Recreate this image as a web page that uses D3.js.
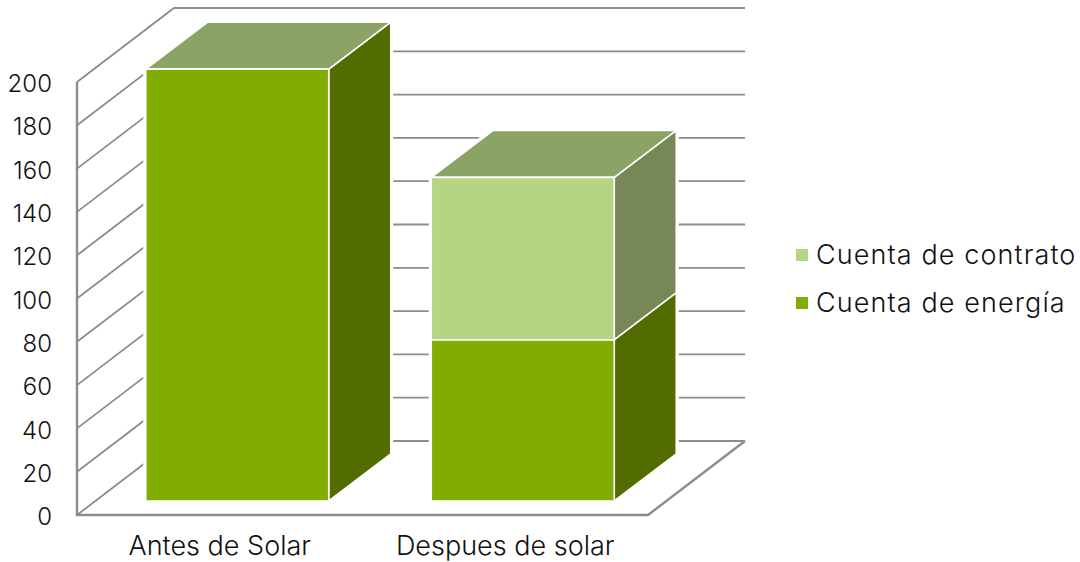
<!DOCTYPE html>
<html>
<head>
<meta charset="utf-8">
<script src="https://d3js.org/d3.v7.min.js"></script>
<title>Cuenta de energia</title>
<style>
body { margin: 0; background: #fff; }
svg { display: block; }
text, .tick text { font-family: Inter, sans-serif; font-weight: 300; font-size: 27px; fill: #111; }
.yaxis .tick text { font-size: 24px; }
.legend text { letter-spacing: 1.1px; }
</style>
</head>
<body>
<svg id="svg" width="1080" height="562"></svg>
<script>

let categories = ["Antes de Solar", "Despues de solar"];
let energia = [199.5, 74.5];
let contrato = [0, 75];
let yTicks = [0, 20, 40, 60, 80, 100, 120, 140, 160, 180, 200];
let seriesNames = ["Cuenta de energía", "Cuenta de contrato"];

// colours per series: front, side, top
let fronts = ["#80ad00", "#b5d584"];
let sides = ["#536c00", "#778755"];
let topColor = "#8ba365";
let gridColor = "#8c8c8c";

let wallDepth = { x: 97, y: -74 };   // front wall to back wall
let barGap = { x: 17.5, y: -14 };    // front wall to bar front
let barDepth = { x: 62, y: -47 };    // bar front to bar back

let svg = d3.select("#svg");

let x = d3.scaleBand().domain(categories).range([77, 648])
  .paddingInner(0.359).paddingOuter(0.1795);
let y = d3.scaleLinear().domain([0, 200]).range([515, 82]);

let line = d3.line();

function poly(points) {
  return line(points) + "Z";
}

// walls and gridlines
let grid = svg.append("g").attr("fill", "none").attr("stroke", gridColor).attr("stroke-width", 1.8);

grid.selectAll(".gridline").data(yTicks).enter().append("path")
  .attr("class", "gridline")
  .attr("d", function(d) {
    return line([
      [x.range()[0], y(d)],
      [x.range()[0] + wallDepth.x, y(d) + wallDepth.y],
      [x.range()[1] + wallDepth.x, y(d) + wallDepth.y]
    ]);
  });

grid.append("path").attr("stroke-width", 2.4)
  .attr("d", line([[x.range()[0], y(200)], [x.range()[0], y(0)], [x.range()[1], y(0)],
    [x.range()[1] + wallDepth.x, y(0) + wallDepth.y]]));

// stack the two series
let stacked = [];
categories.forEach(function(c, i) {
  let base = 0;
  [energia[i], contrato[i]].forEach(function(v, s) {
    if (v > 0) {
      stacked.push({ cat: c, s: s, y0: base, y1: base + v });
      base += v;
    }
  });
});

function frontFace(d) {
  let l = x(d.cat) + barGap.x, r = l + x.bandwidth();
  let t = y(d.y1) + barGap.y, b = y(d.y0) + barGap.y;
  return [[l, t], [r, t], [r, b], [l, b]];
}

function sideFace(d) {
  let f = frontFace(d);
  return [f[1], [f[1][0] + barDepth.x, f[1][1] + barDepth.y],
    [f[2][0] + barDepth.x, f[2][1] + barDepth.y], f[2]];
}

function topFace(d) {
  let f = frontFace(d);
  return [f[0], [f[0][0] + barDepth.x, f[0][1] + barDepth.y],
    [f[1][0] + barDepth.x, f[1][1] + barDepth.y], f[1]];
}

// white halo that cuts the gridlines around each bar
let bars = svg.append("g");
bars.selectAll(".halo").data(stacked).enter().append("path")
  .attr("class", "halo")
  .attr("fill", "#fff").attr("stroke", "#fff").attr("stroke-width", 5)
  .attr("d", function(d) {
    let f = frontFace(d), s = sideFace(d), t = topFace(d);
    return poly([f[3], f[0], t[1], t[2], s[2], f[2]]);
  });

bars.selectAll(".side").data(stacked).enter().append("path")
  .attr("class", "side")
  .attr("fill", function(d) { return sides[d.s]; })
  .attr("stroke", "#fff").attr("stroke-width", 1.6)
  .attr("d", function(d) { return poly(sideFace(d)); });

bars.selectAll(".top").data(stacked.filter(function(d) {
    return d.y1 === d3.max(stacked.filter(function(e) { return e.cat === d.cat; }), function(e) { return e.y1; });
  })).enter().append("path")
  .attr("class", "top")
  .attr("fill", topColor)
  .attr("stroke", "#fff").attr("stroke-width", 1.6)
  .attr("d", function(d) { return poly(topFace(d)); });

bars.selectAll(".front").data(stacked).enter().append("path")
  .attr("class", "front")
  .attr("fill", function(d) { return fronts[d.s]; })
  .attr("stroke", "#fff").attr("stroke-width", 1.6)
  .attr("d", function(d) { return poly(frontFace(d)); });

// axes, labels only
let yAxis = svg.append("g").attr("class", "yaxis").attr("transform", "translate(77,2)")
  .call(d3.axisLeft(y).tickValues(yTicks).tickSize(0).tickPadding(25));
yAxis.select(".domain").remove();

let xAxis = svg.append("g").attr("transform", "translate(0,515)")
  .call(d3.axisBottom(x).tickSize(0).tickPadding(21));
xAxis.select(".domain").remove();

// legend
let legendItems = [1, 0];
let legend = svg.append("g").attr("class", "legend").selectAll("g").data(legendItems).enter().append("g")
  .attr("transform", function(d, i) { return "translate(796," + (249 + i * 48) + ")"; });
legend.append("rect").attr("width", 12).attr("height", 12)
  .attr("fill", function(d) { return fronts[d]; });
legend.append("text").attr("x", 20).attr("y", 15)
  .text(function(d) { return seriesNames[d]; });

</script>
</body>
</html>
